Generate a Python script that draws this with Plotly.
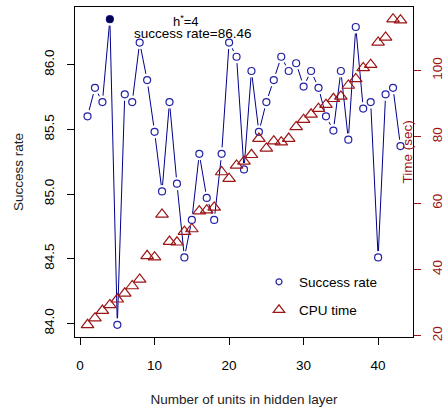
import plotly.graph_objects as go

units = list(range(1, 44))
success_rate = [85.60, 85.82, 85.71, 86.35, 83.99, 85.77, 85.71, 86.17, 85.88, 85.48,
                85.02, 85.71, 85.08, 84.51, 84.80, 85.31, 84.97, 84.80, 85.31, 86.17,
                86.06, 85.19, 85.95, 85.48, 85.71, 85.88, 86.06, 85.95, 86.01, 85.83,
                85.95, 85.82, 85.60, 85.49, 85.95, 85.42, 86.29, 85.66, 85.71, 84.51,
                85.77, 85.82, 85.37]
cpu_time = [23.3, 25.3, 27.6, 29.3, 31.0, 32.8, 35.0, 37.0, 44.1, 43.7,
            56.6, 48.4, 48.2, 51.4, 52.2, 57.6, 57.9, 58.7, 69.4, 67.4,
            71.4, 72.6, 74.6, 79.5, 76.5, 78.7, 78.4, 79.5, 83.0, 85.2,
            86.8, 88.5, 89.7, 91.5, 92.2, 95.5, 97.5, 100.8, 101.8, 108.5,
            110.0, 115.5, 115.2]
best_h = 4
best_rate_label = "86.46"

x_ticks = [0, 10, 20, 30, 40]
y_ticks = [84.0, 84.5, 85.0, 85.5, 86.0]
y2_ticks = [20, 40, 60, 80, 100]

BLUE_LINE = "#00008B"
BLUE_PT = "#2222A8"
RED = "#9B1515"
FONT = "Liberation Sans, Arial, sans-serif"
FS = 13.5

def pad_range(v):
    lo, hi = min(v), max(v)
    d = (hi - lo) * 0.04
    return [lo - d, hi + d]

fig = go.Figure()
fig.add_trace(go.Scatter(x=units, y=success_rate, mode="lines",
                         line=dict(color=BLUE_LINE, width=1), showlegend=False, hoverinfo="skip"))
fig.add_trace(go.Scatter(x=units, y=success_rate, mode="markers",
                         marker=dict(size=13, color="white", line=dict(width=0)),
                         showlegend=False, hoverinfo="skip"))
fig.add_trace(go.Scatter(x=units, y=success_rate, mode="markers",
                         marker=dict(symbol="circle-open", size=7, color=BLUE_PT, line=dict(width=1.2)),
                         showlegend=False))
bi = units.index(best_h)
fig.add_trace(go.Scatter(x=[units[bi]], y=[success_rate[bi]], mode="markers",
                         marker=dict(symbol="circle", size=7, color="#000050"),
                         showlegend=False))
fig.add_trace(go.Scatter(x=units, y=cpu_time, mode="markers", yaxis="y2",
                         marker=dict(symbol="triangle-up-open", size=11, color=RED, line=dict(width=1.2)),
                         showlegend=False))
fig.add_trace(go.Scatter(x=[None], y=[None], mode="markers", name="Success rate",
                         marker=dict(symbol="circle-open", size=6, color=BLUE_PT, line=dict(width=1.2)),
                         legend="legend"))
fig.add_trace(go.Scatter(x=[None], y=[None], mode="markers", name="CPU time",
                         marker=dict(symbol="triangle-up-open", size=10, color=RED, line=dict(width=1.2)),
                         legend="legend2"))

W, H = 443, 411
L, R, T, B = 75, 30, 7, 74
pw, ph = W - L - R, H - T - B

def px(xp):
    return (xp - L) / pw

def py(yp):
    return 1 - (yp - T) / ph

fig.update_layout(
    width=W, height=H,
    margin=dict(l=L, r=R, t=T, b=B, pad=0, autoexpand=False),
    paper_bgcolor="white", plot_bgcolor="white",
    font=dict(family=FONT, size=FS, color="black"),
    xaxis=dict(range=pad_range(units), tickvals=x_ticks, ticks="outside", ticklen=7,
               tickcolor="black", showline=True, mirror=True, linecolor="black", linewidth=1,
               showgrid=False, zeroline=False, ticklabelstandoff=9, automargin=False,
               title=dict(text="Number of units in hidden layer", standoff=22,
                          font=dict(size=FS, color="#222222"))),
    yaxis=dict(range=pad_range(success_rate), tickvals=y_ticks, tickformat=".1f",
               ticks="outside", ticklen=7, tickcolor="black", tickangle=-90,
               showline=True, mirror=True, linecolor="black", linewidth=1,
               showgrid=False, zeroline=False, ticklabelstandoff=8, automargin=False,
               title=dict(text="Success rate", standoff=14, font=dict(size=FS, color="#222222"))),
    yaxis2=dict(range=pad_range(cpu_time), tickvals=y2_ticks, overlaying="y", side="right",
                ticks="outside", ticklen=7, tickcolor=RED, tickangle=-90,
                tickfont=dict(color=RED), showline=False, showgrid=False, zeroline=False,
                ticklabelstandoff=5, automargin=False),
    legend=dict(x=px(259), y=py(282), xanchor="left", yanchor="middle",
                bgcolor="rgba(0,0,0,0)", font=dict(size=FS), itemwidth=30),
    legend2=dict(x=px(259), y=py(310), xanchor="left", yanchor="middle",
                 bgcolor="rgba(0,0,0,0)", font=dict(size=FS), itemwidth=30),
    annotations=[
        dict(x=px(186), y=py(21), xref="paper", yref="paper", showarrow=False,
             xanchor="center", yanchor="middle",
             text="h<sup>*</sup>=4", font=dict(size=13)),
        dict(x=px(192), y=py(34), xref="paper", yref="paper", showarrow=False,
             xanchor="center", yanchor="middle",
             text="success rate=" + best_rate_label, font=dict(size=FS)),
        dict(x=px(406.5), y=py(152), xref="paper", yref="paper", showarrow=False,
             xanchor="center", yanchor="middle",
             text="Time (sec)", textangle=-90, font=dict(size=FS, color=RED)),
    ],
)

fig.write_html("out.html", config={"displayModeBar": False},
               post_script="document.body.style.margin='0';document.body.style.overflow='hidden';")
